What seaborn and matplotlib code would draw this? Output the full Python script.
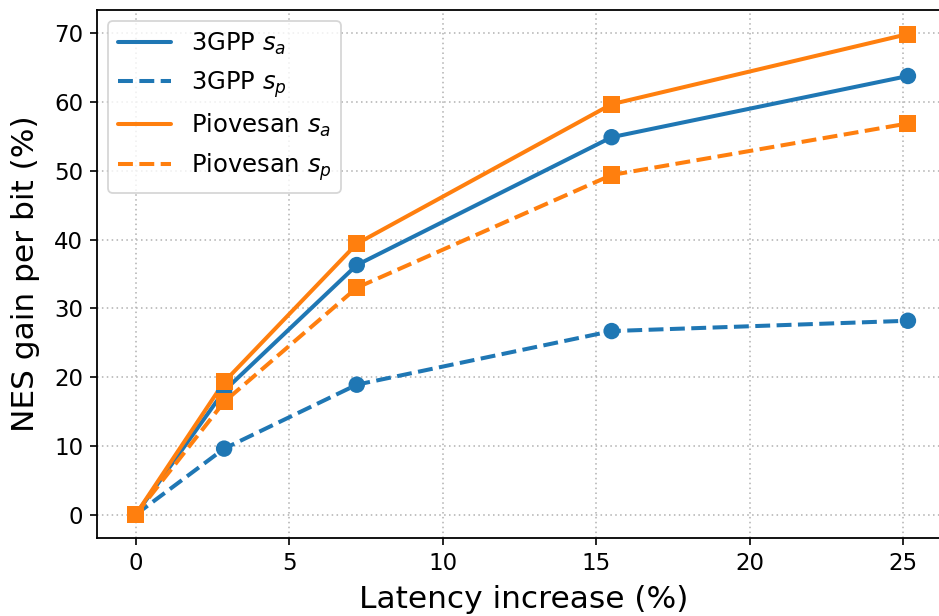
import matplotlib
matplotlib.use("Agg")
import matplotlib.pyplot as plt
import seaborn as sns
import pandas as pd

latency = [0, 2.88, 7.2, 15.5, 25.15]
gpp_sa = [0, 18.0, 36.3, 54.9, 63.8]
gpp_sp = [0, 9.6, 18.9, 26.7, 28.2]
pio_sa = [0, 19.3, 39.4, 59.7, 69.9]
pio_sp = [0, 16.4, 33.0, 49.4, 56.9]

series = [
    ("3GPP $s_a$", gpp_sa, "#1f77b4", "-", "o"),
    ("3GPP $s_p$", gpp_sp, "#1f77b4", "--", "o"),
    ("Piovesan $s_a$", pio_sa, "#ff7f0e", "-", "s"),
    ("Piovesan $s_p$", pio_sp, "#ff7f0e", "--", "s"),
]

sns.set_style("ticks")
plt.rcParams['font.family'] = ['DejaVu Sans']
plt.rcParams.update({
    "text.color": "black", "axes.labelcolor": "black",
    "xtick.color": "black", "ytick.color": "black",
    "axes.edgecolor": "black",
})

fig = plt.figure(figsize=(9.39, 6.16), dpi=100)
ax = fig.add_axes([97/939, 78/616, 853/939, 528/616])

for label, vals, color, ls, mk in series:
    df = pd.DataFrame({"x": latency, "y": vals})
    sns.lineplot(data=df, x="x", y="y", ax=ax, color=color, linestyle=ls,
                 linewidth=2.9, label=label)
    sns.scatterplot(data=df, x="x", y="y", ax=ax, color=color, marker=mk,
                    s=140 if mk == "o" else 150, edgecolor="none", linewidth=0,
                    zorder=3, legend=False)

ax.set_xlim(-1.26, 26.52)
ax.set_ylim(-3.4, 73.4)
ax.set_xticks([0, 5, 10, 15, 20, 25])
ax.set_yticks([0, 10, 20, 30, 40, 50, 60, 70])
ax.tick_params(labelsize=16.5, length=5, width=1.2, color="black", pad=5)
ax.set_xlabel("Latency increase (%)", fontsize=22.5, labelpad=7)
ax.set_ylabel("NES gain per bit (%)", fontsize=22.5, labelpad=10)
ax.grid(True, linestyle=(0, (1, 2.2)), color="#b0b0b0", linewidth=1.1)
for sp in ax.spines.values():
    sp.set_color("black")
    sp.set_linewidth(1.3)

leg = ax.legend(loc="upper left", fontsize=17.5, frameon=True,
                borderaxespad=0.45, handlelength=2.2)
leg.get_frame().set_edgecolor("#cccccc")
leg.get_frame().set_linewidth(1.3)

fig.savefig("out.png", dpi=100)
